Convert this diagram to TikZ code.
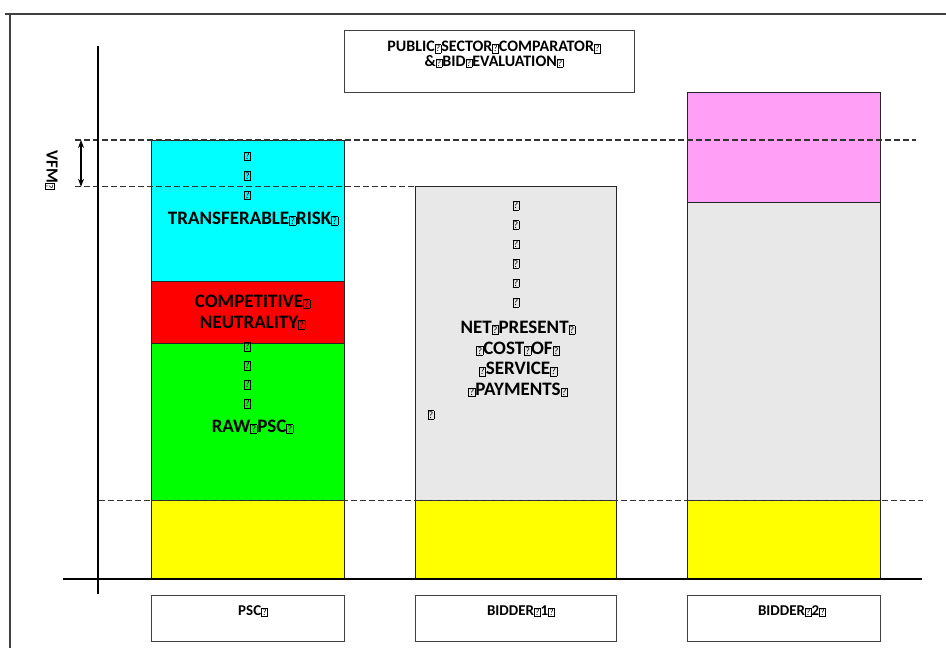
\documentclass[tikz,border=0pt]{standalone}
\usepackage{fontspec}
\setmainfont{Carlito}
\usetikzlibrary{arrows.meta}
\definecolor{cCyan}{HTML}{00FFFF}
\definecolor{cRed}{HTML}{FF0000}
\definecolor{cGreen}{HTML}{00FF00}
\definecolor{cYellow}{HTML}{FFFF00}
\definecolor{cGrey}{HTML}{E8E8E8}
\definecolor{cPink}{HTML}{FF9FF5}
\newcommand\tofu{{\setlength\fboxsep{0.6pt}\setlength\fboxrule{0.5pt}\fbox{\fontsize{10}{10}\selectfont\mdseries ?}}}
\newcommand\tofs{{\setlength\fboxsep{0.6pt}\setlength\fboxrule{0.5pt}\fbox{\fontsize{9.5}{9.5}\selectfont\mdseries ?}}}
\begin{document}
\begin{tikzpicture}[x=1pt,y=-1pt,
  bar/.style={draw=black!85,line width=0.8pt},
  lblbox/.style={draw=black!75,line width=1pt},
  axisline/.style={line width=2.6pt,draw=black},
  guide/.style={dash pattern=on 5.5pt off 3.5pt,line width=1.2pt,draw=black!80},
  big/.style={font=\fontsize{19}{21}\selectfont\bfseries,align=center,inner sep=0pt},
  col/.style={font=\fontsize{18}{19.5}\selectfont\bfseries,align=center,inner sep=0pt,anchor=north},
  small/.style={font=\fontsize{15}{15}\selectfont\bfseries,inner sep=0pt,anchor=base},
  ttl/.style={font=\fontsize{16}{14.5}\selectfont\bfseries,align=center,inner sep=0pt,anchor=north}]
\useasboundingbox (0,0) rectangle (946,648);
\fill[white] (0,0) rectangle (946,648);
% outer frame
\draw[black!75,line width=1.2pt] (5,14) -- (946,14);
\draw[black!75,line width=1.2pt] (10,14) -- (10,648);
% title box
\draw[lblbox] (344,30) rectangle (634,92.5);
\node[ttl] (title) at (494,41.3) {PUBLIC\tofs SECTOR\tofs COMPARATOR\tofs\\\&\tofs BID\tofs EVALUATION\tofs};
% PSC column
\filldraw[bar,fill=cYellow] (151,500.5) rectangle (344,578);
\filldraw[bar,fill=cGreen] (151,343) rectangle (344,500.5);
\filldraw[bar,fill=cRed] (151,281) rectangle (344,343);
\filldraw[bar,fill=cCyan] (151,140) rectangle (344,281);
% Bidder 1 column
\filldraw[bar,fill=cYellow] (415,500.5) rectangle (616,578);
\filldraw[bar,fill=cGrey] (415,186.7) rectangle (616,500.5);
% Bidder 2 column
\filldraw[bar,fill=cYellow] (687,500.5) rectangle (880,578);
\filldraw[bar,fill=cGrey] (687,202) rectangle (880,500.5);
\filldraw[bar,fill=cPink] (687,92.7) rectangle (880,202);
% guide lines
\coordinate (g1a) at (75,140);
\coordinate (g1b) at (916,140);
\coordinate (g2a) at (75,186.7);
\coordinate (g2b) at (415,186.7);
\coordinate (g3a) at (99,500.5);
\coordinate (g3b) at (923,500.5);
\draw[guide] (g1a) -- (g1b);
\draw[guide] (g2a) -- (g2b);
\draw[guide] (g3a) -- (g3b);
% VFM arrow
\coordinate (vt) at (81,140);
\coordinate (vb) at (81,186.7);
\draw[line width=1.1pt,{Stealth[length=8pt,width=6pt]}-{Stealth[length=8pt,width=6pt]}] (vt) -- (vb);
\node[font=\fontsize{17}{17}\selectfont\bfseries,rotate=-90,inner sep=0pt] (vfm) at (51.5,170) {VFM\tofs};
% axes
\coordinate (ya) at (98,46);
\coordinate (yb) at (98,594);
\coordinate (xa) at (63,579);
\coordinate (xb) at (922,579);
\draw[axisline] (ya) -- (yb);
\draw[axisline] (xa) -- (xb);
% PSC texts
\node[col] (cyantofu) at (247.5,151.5) {\tofu\\\tofu\\\tofu};
\node[big,anchor=north] (tr) at (253,211.6) {TRANSFERABLE\tofu RISK\tofu};
\node[big,anchor=north] (cn) at (252.5,294.6) {COMPETITIVE\tofu\\NEUTRALITY\tofu};
\node[font=\fontsize{18}{19}\selectfont\bfseries,align=center,inner sep=0pt,anchor=north] (greentofu) at (247.5,341.8) {\tofu\\\tofu\\\tofu\\\tofu};
\node[big,anchor=north] (raw) at (252.5,419.7) {RAW\tofu PSC\tofu};
% Bidder 1 texts
\node[font=\fontsize{18}{19.4}\selectfont\bfseries,align=center,inner sep=0pt,anchor=north] (b1tofu) at (516,200.8) {\tofu\\\tofu\\\tofu\\\tofu\\\tofu\\\tofu};
\node[font=\fontsize{19}{20.8}\selectfont\bfseries,align=center,inner sep=0pt,anchor=north] (npc) at (518,320.6) {NET\tofu PRESENT\tofu\\\tofu COST\tofu OF\tofu\\\tofu SERVICE\tofu\\\tofu PAYMENTS\tofu};
\node[inner sep=0pt] (b1end) at (431,415) {\tofu};
% bottom label boxes
\draw[lblbox] (151,595) rectangle (344,641.7);
\draw[lblbox] (415,595) rectangle (616,641.7);
\draw[lblbox] (687,595) rectangle (880,641.7);
\node[small] (lpsc) at (253,615.8) {PSC\tofs};
\node[small] (lb1) at (521,615.8) {BIDDER\tofs 1\tofs};
\node[small] (lb2) at (792,615.8) {BIDDER\tofs 2\tofs};
\end{tikzpicture}
\end{document}
